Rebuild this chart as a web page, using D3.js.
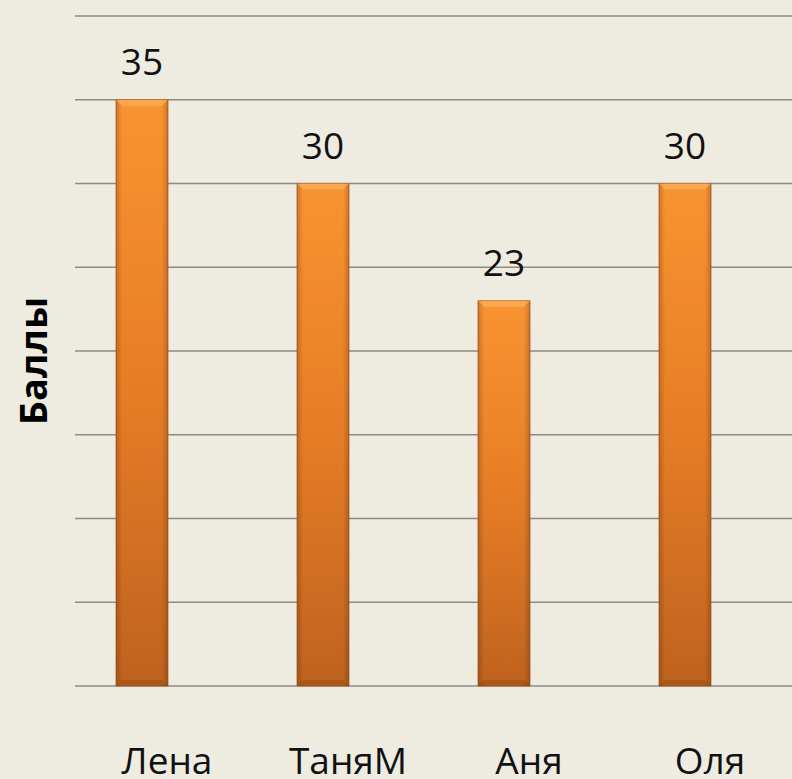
<!DOCTYPE html>
<html><head><meta charset="utf-8">
<script src="https://cdn.jsdelivr.net/npm/d3@7"></script>
<style>
html,body{margin:0;padding:0;background:#EEEBE1;}
svg{display:block;}
</style></head>
<body>
<script>
const categories = ["Лена", "ТаняМ", "Аня", "Оля"];
const values = [35, 30, 23, 30];
const yTicks = [0, 5, 10, 15, 20, 25, 30, 35, 40];
const yTitle = "Баллы";

const W = 792, H = 779;
const svg = d3.select("body").append("svg").attr("width", W).attr("height", H);
svg.append("rect").attr("width", W).attr("height", H).attr("fill", "#EEEBE1");

const x = d3.scaleBand().domain(categories).range([51.5, 775.5]).paddingInner(0.713).paddingOuter(0.3565);
const y = d3.scaleLinear().domain([0, 40]).range([686, 16]);

const defs = svg.append("defs");
const g1 = defs.append("linearGradient").attr("id", "barGrad").attr("x1", 0).attr("y1", 0).attr("x2", 0).attr("y2", 1);
g1.append("stop").attr("offset", "0%").attr("stop-color", "#F99331");
g1.append("stop").attr("offset", "50%").attr("stop-color", "#E67D26");
g1.append("stop").attr("offset", "100%").attr("stop-color", "#BF621F");
const g2 = defs.append("linearGradient").attr("id", "sideGrad").attr("x1", 0).attr("y1", 0).attr("x2", 1).attr("y2", 0);
g2.append("stop").attr("offset", "0%").attr("stop-color", "#000").attr("stop-opacity", 0.18);
g2.append("stop").attr("offset", "12%").attr("stop-color", "#000").attr("stop-opacity", 0);
g2.append("stop").attr("offset", "88%").attr("stop-color", "#000").attr("stop-opacity", 0);
g2.append("stop").attr("offset", "100%").attr("stop-color", "#000").attr("stop-opacity", 0.18);

// gridlines
svg.append("g").selectAll("line").data(yTicks).join("line")
  .attr("x1", 75).attr("x2", W)
  .attr("y1", d => y(d)).attr("y2", d => y(d))
  .attr("stroke", "#8C8C84").attr("stroke-width", 1.6);

// bars
const bars = svg.append("g").selectAll("g").data(values).join("g");
bars.append("rect")
  .attr("x", (d, i) => x(categories[i]))
  .attr("y", d => y(d))
  .attr("width", x.bandwidth())
  .attr("height", d => y(0) - y(d))
  .attr("fill", "url(#barGrad)")
  .attr("stroke", "#A85A1E").attr("stroke-width", 0.8);
bars.append("rect")
  .attr("x", (d, i) => x(categories[i]))
  .attr("y", d => y(d))
  .attr("width", x.bandwidth())
  .attr("height", d => y(0) - y(d))
  .attr("fill", "url(#sideGrad)");
// top bevel highlight
bars.append("path")
  .attr("d", (d, i) => {
    const x0 = x(categories[i]), x1 = x0 + x.bandwidth(), t = y(d), b = 6;
    return `M${x0},${t}L${x1},${t}L${x1 - b},${t + b}L${x0 + b},${t + b}Z`;
  })
  .attr("fill", "#FFB060").attr("opacity", 0.7);
// bottom bevel shade
bars.append("path")
  .attr("d", (d, i) => {
    const x0 = x(categories[i]), x1 = x0 + x.bandwidth(), bt = y(0), b = 6;
    return `M${x0},${bt}L${x1},${bt}L${x1 - b},${bt - b}L${x0 + b},${bt - b}Z`;
  })
  .attr("fill", "#8A4512").attr("opacity", 0.35);

// value labels
svg.append("g").selectAll("text").data(values).join("text")
  .attr("x", (d, i) => x(categories[i]) + x.bandwidth() / 2)
  .attr("y", d => y(d) - 25)
  .attr("text-anchor", "middle")
  .attr("font-family", "Open Sans, sans-serif")
  .attr("font-size", 37)
  .attr("fill", "#111")
  .text(d => d);

// category labels
svg.append("g").selectAll("text").data(categories).join("text")
  .attr("x", d => x(d) + x.bandwidth() / 2 + 25)
  .attr("y", 774)
  .attr("text-anchor", "middle")
  .attr("font-family", "Open Sans, sans-serif")
  .attr("font-size", 37)
  .attr("fill", "#111")
  .text(d => d);

// y title
svg.append("text")
  .attr("transform", "translate(47,361) rotate(-90)")
  .attr("text-anchor", "middle")
  .attr("font-family", "Open Sans, sans-serif")
  .attr("font-weight", "bold")
  .attr("font-size", 38)
  .attr("fill", "#000")
  .text(yTitle);
</script>
</body></html>
